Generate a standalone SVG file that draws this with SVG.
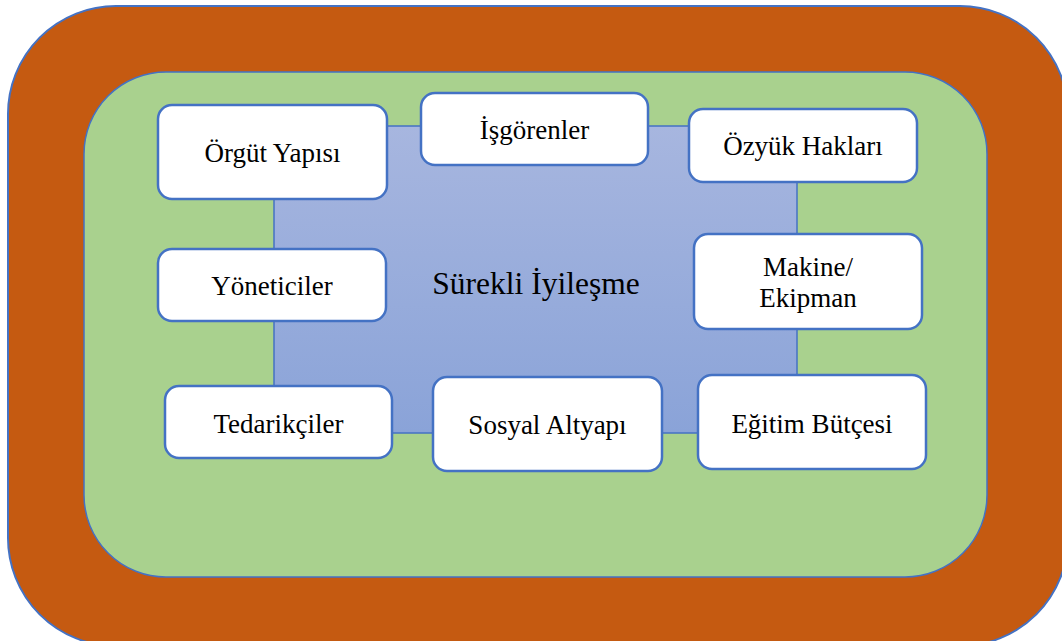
<svg xmlns="http://www.w3.org/2000/svg" width="1062" height="641" viewBox="0 0 1062 641">
  <defs>
    <linearGradient id="coreFill" x1="0" y1="0" x2="0" y2="1">
      <stop offset="0" stop-color="#a7b6df"/>
      <stop offset="1" stop-color="#8aa3d8"/>
    </linearGradient>
    <style>
      .frame { fill: #c55a11; stroke: #4472c4; stroke-width: 2; }
      .field { fill: #a9d18e; stroke: #4472c4; stroke-width: 1.5; }
      .core { fill: url(#coreFill); stroke: #4472c4; stroke-width: 1.5; }
      .box { fill: #ffffff; stroke: #4472c4; stroke-width: 2.5; }
      text { font-family: 'Liberation Serif', 'Times New Roman', serif; fill: #000000; text-anchor: middle; }
      .label { font-size: 27px; }
      .title { font-size: 31.5px; }
    </style>
  </defs>

  <!-- background layers: outer frame, green field, central improvement area -->
  <g id="layers">
    <rect class="frame" x="8" y="6" width="1060" height="640" rx="108" ry="108"/>
    <rect class="field" x="84" y="72" width="903" height="505" rx="82" ry="82"/>
    <rect class="core" x="274" y="126" width="523" height="307"/>
    <text class="title" x="536" y="294">Sürekli İyileşme</text>
  </g>

  <!-- factor boxes -->
  <g id="orgut-yapisi">
    <rect class="box" x="158" y="105" width="229" height="94" rx="14" ry="14"/>
    <text class="label" x="272.5" y="162">Örgüt Yapısı</text>
  </g>
  <g id="isgorenler">
    <rect class="box" x="421" y="93" width="227" height="72" rx="14" ry="14"/>
    <text class="label" x="534.5" y="139">İşgörenler</text>
  </g>
  <g id="ozyuk-haklari">
    <rect class="box" x="689" y="109" width="228" height="73" rx="14" ry="14"/>
    <text class="label" x="803" y="155">Özyük Hakları</text>
  </g>
  <g id="yoneticiler">
    <rect class="box" x="158" y="249" width="228" height="72" rx="14" ry="14"/>
    <text class="label" x="272" y="295">Yöneticiler</text>
  </g>
  <g id="makine-ekipman">
    <rect class="box" x="694" y="234" width="228" height="95" rx="14" ry="14"/>
    <text class="label" x="808" y="276">Makine/</text>
    <text class="label" x="808" y="307">Ekipman</text>
  </g>
  <g id="tedarikciler">
    <rect class="box" x="165" y="386" width="227" height="72" rx="14" ry="14"/>
    <text class="label" x="278.5" y="433">Tedarikçiler</text>
  </g>
  <g id="sosyal-altyapi">
    <rect class="box" x="433" y="377" width="229" height="94" rx="14" ry="14"/>
    <text class="label" x="547.5" y="434">Sosyal Altyapı</text>
  </g>
  <g id="egitim-butcesi">
    <rect class="box" x="698" y="375" width="228" height="94" rx="14" ry="14"/>
    <text class="label" x="812" y="433">Eğitim Bütçesi</text>
  </g>
</svg>
